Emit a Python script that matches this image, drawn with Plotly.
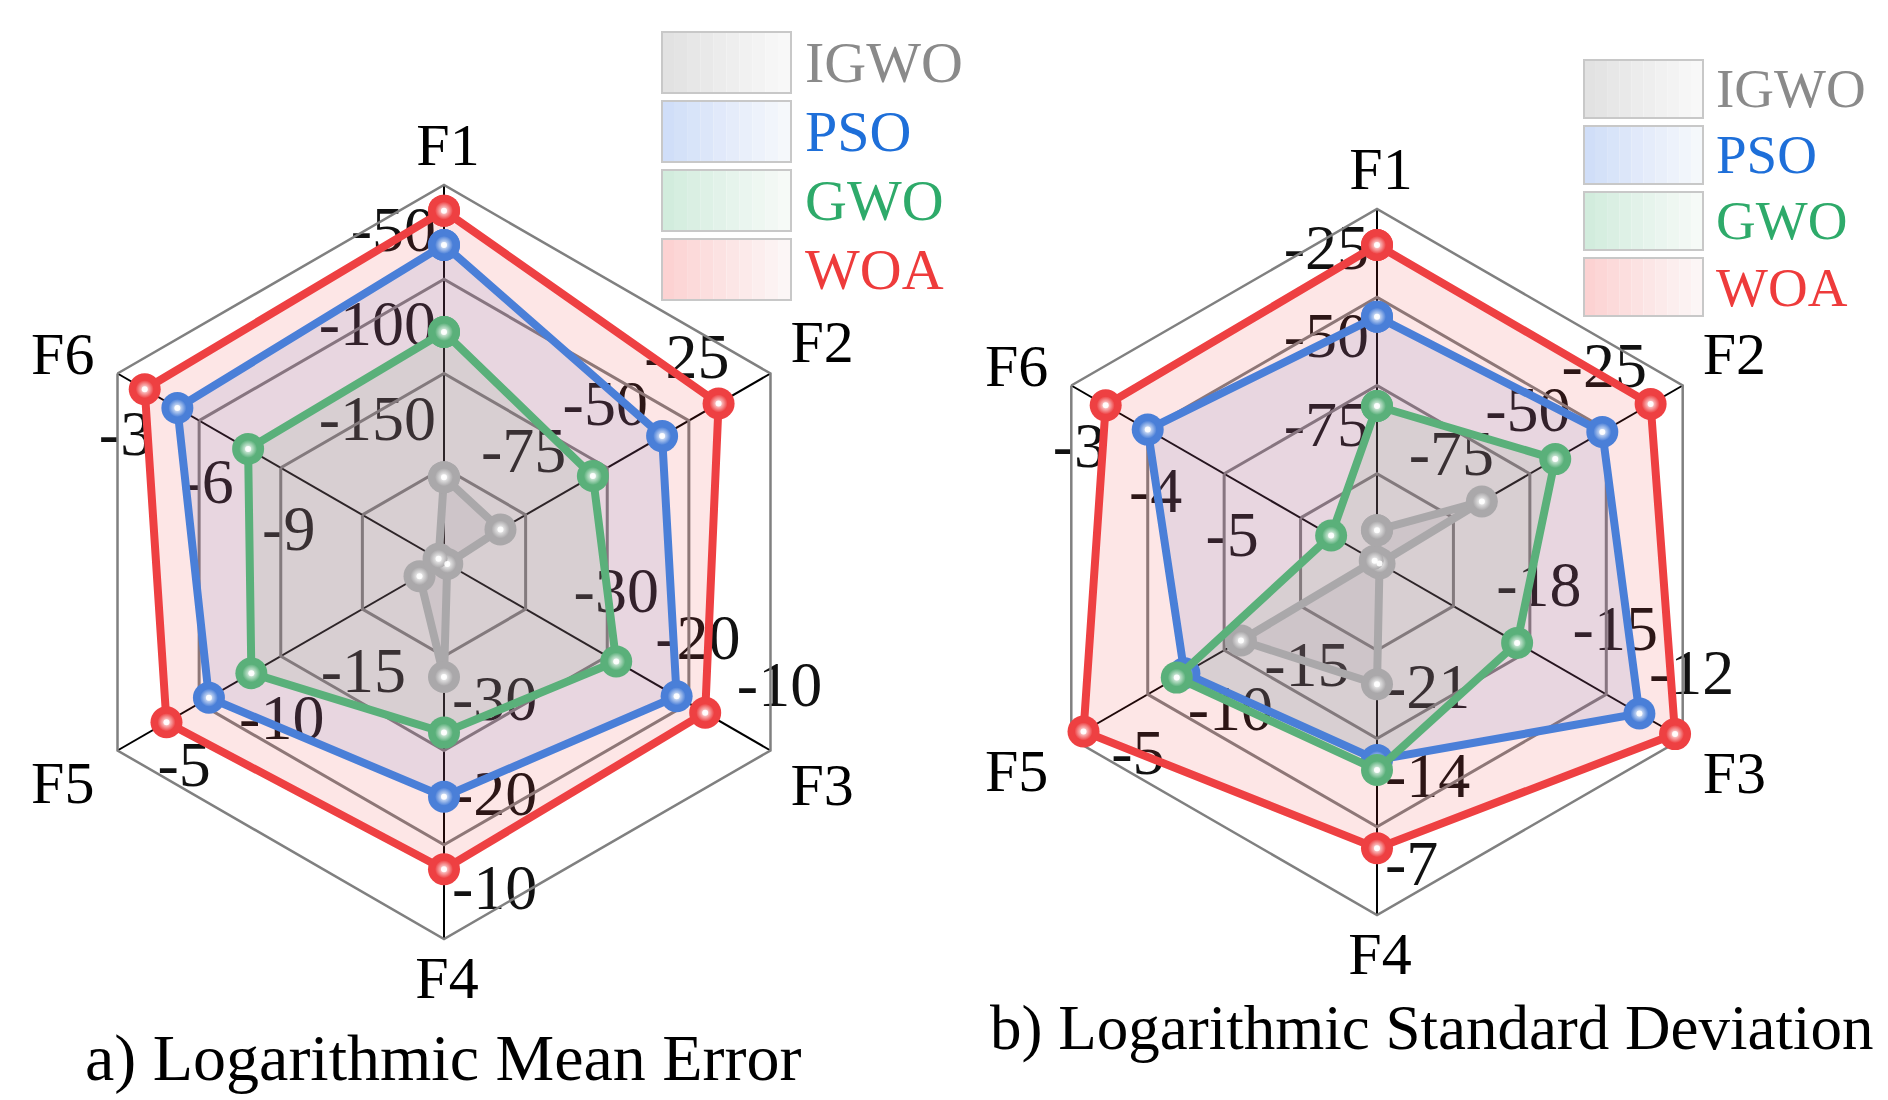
import math
import plotly.graph_objects as go

# The page body keeps the browser's default 8px margin, so the figure is
# sized to fit the window and positions are given in window pixels minus OFF.
WIN_W, WIN_H, OFF = 1888, 1100, 8
W, H = WIN_W - OFF, WIN_H - OFF
FONT = "Liberation Serif"

categories = ["F1", "F2", "F3", "F4", "F5", "F6"]
series_names = ["IGWO", "PSO", "GWO", "WOA"]
line_colors = ["#aaa8aa", "#4a7fd8", "#5ab07a", "#ee4042"]
fill_colors = ["rgba(150,150,150,0.12)", "rgba(66,115,206,0.13)",
               "rgba(84,172,115,0.12)", "rgba(240,60,60,0.13)"]
legend_text_colors = ["#8a8a8a", "#1e6fd9", "#2eaa6a", "#ee3b3b"]
legend_box_colors = [(226, 226, 226), (208, 222, 248), (210, 236, 221), (252, 210, 210)]

# ---- a) Logarithmic Mean Error: per-axis scale (centre value, outer value) ----
mean_center = [-200, -100, -50, -50, -25, -15]
mean_outer = [0, 0, -10, -10, -5, -3]
mean_tickvals = [[-150, -100, -50], [-75, -50, -25], [-30, -20, -10],
                 [-30, -20, -10], [-15, -10, -5], [-9, -6, -3]]
mean_igwo = [-155, -82.7, -49.6, -37.8, -23.5, -14.8]
mean_pso = [-31.8, -33.2, -21.5, -25.1, -10.6, -5.2]
mean_gwo = [-78, -54.4, -28.9, -31.9, -13.2, -7.8]
mean_woa = [-13.6, -15.9, -18.0, -17.4, -8.0, -4.0]

# ---- b) Logarithmic Standard Deviation ----
std_center = [-100, -100, -24, -35, -25, -7]
std_outer = [0, 0, -12, -7, -5, -3]
std_tickvals = [[-75, -50, -25], [-75, -50, -25], [-18, -15, -12],
                [-21, -14, -7], [-15, -10, -5], [-5, -4, -3]]
std_igwo = [-91, -65.7, -23.9, -25.3, -16.1, -6.97]
std_pso = [-30.5, -26.3, -13.7, -19.3, -12.4, -4.0]
std_gwo = [-55.8, -41.7, -18.5, -18.5, -11.9, -6.4]
std_woa = [-10.2, -10.5, -12.3, -12.3, -5.8, -3.45]

titles = ["a) Logarithmic Mean Error", "b) Logarithmic Standard Deviation"]

RINGS = 4
LABEL_RANGE = 4.6
charts = [
    dict(cx=444, cy=562, R=377, center=mean_center, outer=mean_outer,
         ticks=mean_tickvals, data=[mean_igwo, mean_pso, mean_gwo, mean_woa],
         title_xy=(443, 1058), title_fs=66,
         leg=dict(x0=662, y0=32, w=129, h=61, gap=69, tx=803, fs=58)),
    dict(cx=1377, cy=562, R=353, center=std_center, outer=std_outer,
         ticks=std_tickvals, data=[std_igwo, std_pso, std_gwo, std_woa],
         title_xy=(1432, 1028), title_fs=63,
         leg=dict(x0=1584, y0=60, w=119, h=58, gap=66, tx=1714, fs=55)),
]

# offsets (px, screen y down) from the ring / outer vertex, and text anchoring
tick_off = [(-8, -44, "middle left"), (-2, -59, "middle center"), (9, -60, "middle center"),
            (8, -46, "middle right"), (40, 20, "middle right"), (8, 66, "middle center")]
name_off = [(4, -35, "middle center"), (20, -26, "middle right"), (20, 40, "middle right"),
            (3, 44, "middle center"), (-23, 38, "middle left"), (-23, -14, "middle left")]


def norm(v, c, o):
    return RINGS * (v - c) / (o - c)


def shifted(k, i, dx, dy, R):
    u = R / RINGS
    phi = math.radians(90 - 60 * i)
    x = k * u * math.cos(phi) + dx
    y = k * u * math.sin(phi) - dy
    r = math.hypot(x, y) / u
    th = (90 - math.degrees(math.atan2(y, x))) % 360
    return r, th


def px(x):
    return (x - OFF) / W


def py(y):
    return 1 - (y - OFF) / H


fig = go.Figure()
layout_polars = {}
shapes = []
annotations = []

for ci, ch in enumerate(charts):
    cx, cy, R = ch["cx"], ch["cy"], ch["R"]
    RL = R * LABEL_RANGE / RINGS
    lab_id = "polar" if ci == 0 else f"polar{2 * ci + 1}"
    dat_id = f"polar{2 * ci + 2}"

    layout_polars[lab_id] = dict(
        domain=dict(x=[max(0, px(cx - RL)), px(cx + RL)], y=[py(cy + RL), py(cy - RL)]),
        bgcolor="rgba(0,0,0,0)",
        radialaxis=dict(range=[0, LABEL_RANGE], visible=False),
        angularaxis=dict(rotation=90, direction="clockwise", thetaunit="degrees",
                         visible=False),
    )
    layout_polars[dat_id] = dict(
        domain=dict(x=[px(cx - R), px(cx + R)], y=[py(cy + R), py(cy - R)]),
        bgcolor="rgba(0,0,0,0)", gridshape="linear",
        radialaxis=dict(range=[0, RINGS], tickvals=[1, 2, 3], showticklabels=False,
                        ticks="", showline=False, gridcolor="#808080", gridwidth=2.5,
                        layer="below traces"),
        angularaxis=dict(type="category", categoryarray=categories, rotation=90,
                         direction="clockwise", showticklabels=False, ticks="",
                         showline=True, linecolor="#808080", linewidth=2.5,
                         gridcolor="#000000", gridwidth=1.8, layer="below traces"),
    )

    # tick labels (bottom polar, same pixel scale as the data polar)
    tr, tt, tx, tp = [], [], [], []
    for i in range(6):
        dx, dy, pos = tick_off[i]
        for tv in ch["ticks"][i]:
            k = norm(tv, ch["center"][i], ch["outer"][i])
            r, th = shifted(k, i, dx, dy, R)
            tr.append(r); tt.append(th); tx.append(str(tv)); tp.append(pos)
    fig.add_trace(go.Scatterpolar(r=tr, theta=tt, text=tx, mode="text", textposition=tp,
                                  textfont=dict(family=FONT, size=64, color="#111111"),
                                  cliponaxis=False, hoverinfo="skip", subplot=lab_id,
                                  showlegend=False))
    nr, nt, npos = [], [], []
    for i in range(6):
        dx, dy, pos = name_off[i]
        r, th = shifted(RINGS, i, dx, dy, R)
        nr.append(r); nt.append(th); npos.append(pos)
    fig.add_trace(go.Scatterpolar(r=nr, theta=nt, text=categories, mode="text",
                                  textposition=npos,
                                  textfont=dict(family=FONT, size=60, color="#000000"),
                                  cliponaxis=False, hoverinfo="skip", subplot=lab_id,
                                  showlegend=False))

    radii = [[norm(v, ch["center"][i], ch["outer"][i]) for i, v in enumerate(vals)]
             for vals in ch["data"]]
    # fills first
    for si, rr in enumerate(radii):
        fig.add_trace(go.Scatterpolar(
            r=rr + rr[:1], theta=categories + categories[:1], mode="lines",
            fill="toself", fillcolor=fill_colors[si], line=dict(width=0),
            subplot=dat_id, showlegend=False, hoverinfo="skip", cliponaxis=False))
    # lines and spheres
    for si, rr in enumerate(radii):
        fig.add_trace(go.Scatterpolar(
            r=rr + rr[:1], theta=categories + categories[:1], mode="lines+markers",
            line=dict(color=line_colors[si], width=8),
            marker=dict(size=32, color=line_colors[si]),
            name=series_names[si], subplot=dat_id, showlegend=False, cliponaxis=False))
        fig.add_trace(go.Scatterpolar(
            r=rr, theta=categories, mode="markers",
            marker=dict(size=18, color=line_colors[si],
                        gradient=dict(type="radial", color="white")),
            subplot=dat_id, showlegend=False, hoverinfo="skip", cliponaxis=False))
        fig.add_trace(go.Scatterpolar(
            r=rr, theta=categories, mode="markers",
            marker=dict(size=6, color="rgba(255,255,255,0.9)"),
            subplot=dat_id, showlegend=False, hoverinfo="skip", cliponaxis=False))

    annotations.append(dict(x=px(ch["title_xy"][0]), y=py(ch["title_xy"][1]),
                            xref="paper", yref="paper", text=titles[ci], showarrow=False,
                            xanchor="center", yanchor="middle",
                            font=dict(family=FONT, size=ch["title_fs"], color="#000000")))
    lg = ch["leg"]
    nsl = 10
    for si, name in enumerate(series_names):
        y0 = lg["y0"] + si * lg["gap"]
        base = legend_box_colors[si]
        for s in range(nsl):
            t = s / (nsl - 1)
            col = tuple(int(round(b + (252 - b) * t * 0.85)) for b in base)
            shapes.append(dict(type="rect", xref="paper", yref="paper",
                               x0=px(lg["x0"] + s * lg["w"] / nsl),
                               x1=px(lg["x0"] + (s + 1) * lg["w"] / nsl),
                               y0=py(y0 + lg["h"]), y1=py(y0),
                               fillcolor="rgb(%d,%d,%d)" % col, line=dict(width=0),
                               layer="above"))
        shapes.append(dict(type="rect", xref="paper", yref="paper",
                           x0=px(lg["x0"]), x1=px(lg["x0"] + lg["w"]),
                           y0=py(y0 + lg["h"]), y1=py(y0),
                           fillcolor="rgba(0,0,0,0)", line=dict(color="#c8c8c8", width=2),
                           layer="above"))
        annotations.append(dict(x=px(lg["tx"]), y=py(y0 + lg["h"] / 2),
                                xref="paper", yref="paper", text=name, showarrow=False,
                                xanchor="left", yanchor="middle",
                                font=dict(family=FONT, size=lg["fs"],
                                          color=legend_text_colors[si])))

fig.update_layout(
    width=W, height=H, margin=dict(l=0, r=0, t=0, b=0),
    paper_bgcolor="white", plot_bgcolor="white", showlegend=False,
    shapes=shapes, annotations=annotations, **layout_polars,
)
fig.write_html("out.html")
